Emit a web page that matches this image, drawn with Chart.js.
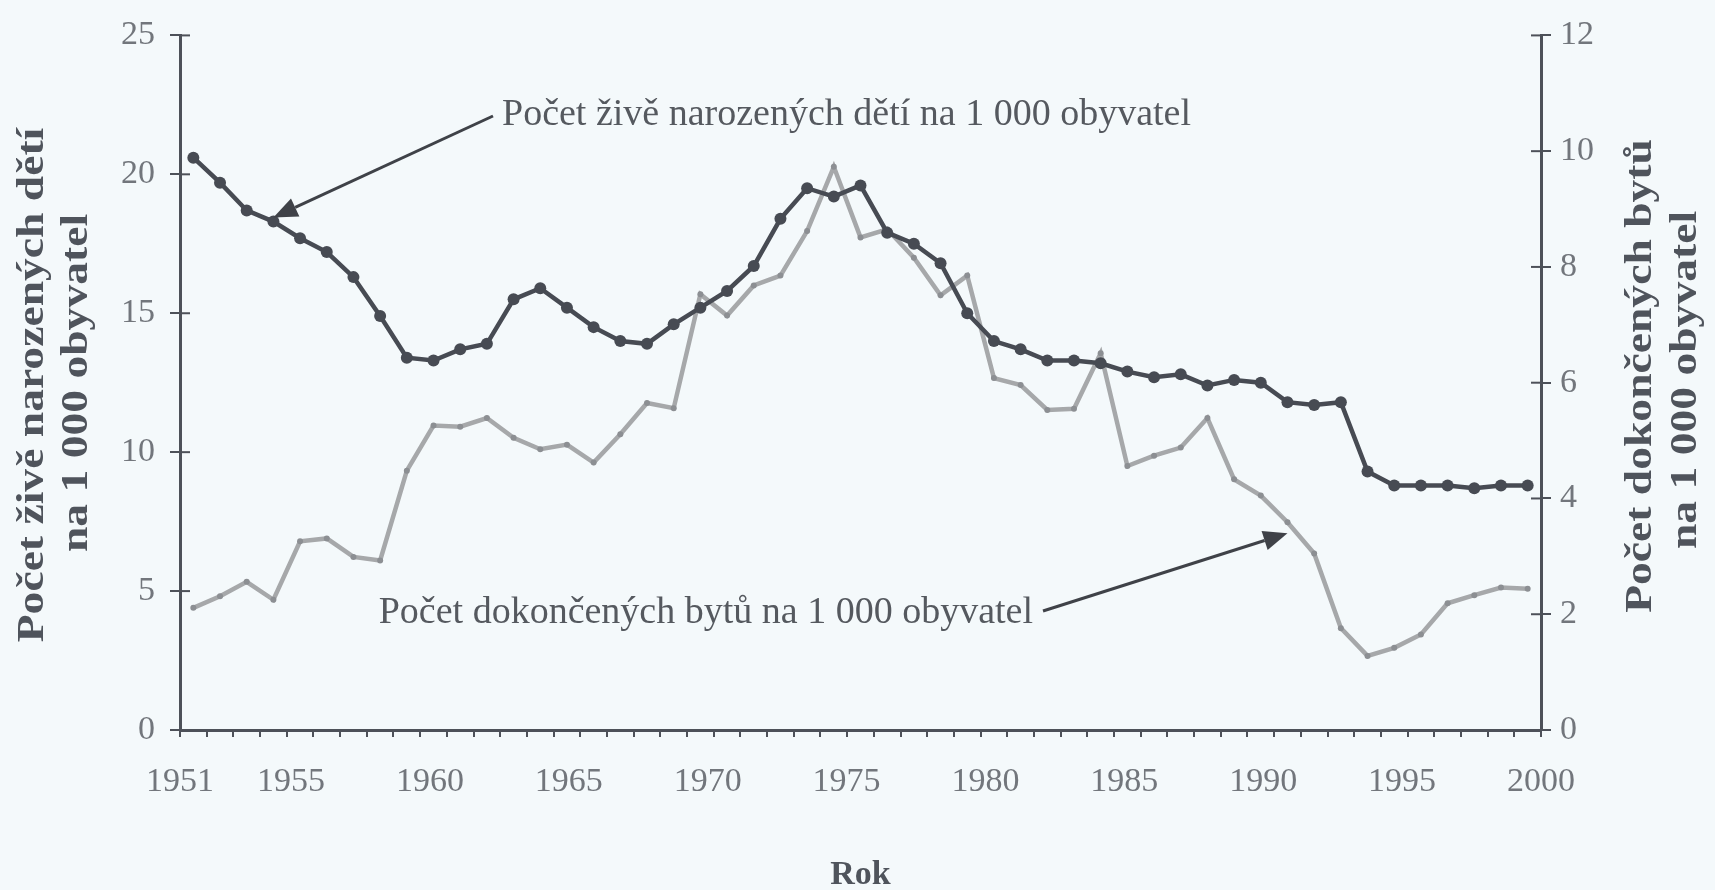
<!DOCTYPE html>
<html>
<head>
<meta charset="utf-8">
<title>Porodnost a bytová výstavba</title>
<script src="https://cdn.jsdelivr.net/npm/chart.js@4"></script>
<style>
  html, body { margin: 0; padding: 0; background: #f4f9fb; }
  #wrap { width: 1715px; height: 890px; }
</style>
</head>
<body>
<div id="wrap"><canvas id="myChart" width="1715" height="890"></canvas></div>
<script>
/* ======================================
        DATA
========================================*/
const years = [1950, 1951, 1952, 1953, 1954, 1955, 1956, 1957, 1958, 1959,
  1960, 1961, 1962, 1963, 1964, 1965, 1966, 1967, 1968, 1969,
  1970, 1971, 1972, 1973, 1974, 1975, 1976, 1977, 1978, 1979,
  1980, 1981, 1982, 1983, 1984, 1985, 1986, 1987, 1988, 1989,
  1990, 1991, 1992, 1993, 1994, 1995, 1996, 1997, 1998, 1999, 2000];

// live births per 1 000 inhabitants (left axis)
const births = [20.6, 19.7, 18.7, 18.3, 17.7, 17.2, 16.3, 14.9, 13.4, 13.3,
  13.7, 13.9, 15.5, 15.9, 15.2, 14.5, 14.0, 13.9, 14.6, 15.2,
  15.8, 16.7, 18.4, 19.5, 19.2, 19.6, 17.9, 17.5, 16.8, 15.0,
  14.0, 13.7, 13.3, 13.3, 13.2, 12.9, 12.7, 12.8, 12.4, 12.6,
  12.5, 11.8, 11.7, 11.8, 9.3, 8.8, 8.8, 8.8, 8.7, 8.8, 8.8];

// completed dwellings per 1 000 inhabitants (right axis)
const dwellings = [2.11, 2.31, 2.56, 2.25, 3.26, 3.31, 2.99, 2.93, 4.48, 5.26,
  5.24, 5.39, 5.05, 4.85, 4.93, 4.62, 5.11, 5.65, 5.56, 7.53,
  7.16, 7.68, 7.85, 8.62, 9.73, 8.51, 8.65, 8.16, 7.51, 7.85,
  6.08, 5.96, 5.53, 5.55, 6.51, 4.56, 4.74, 4.88, 5.39, 4.33,
  4.05, 3.59, 3.05, 1.76, 1.28, 1.42, 1.65, 2.19, 2.33, 2.46, 2.44];

const yearTicks = [1951, 1955, 1960, 1965, 1970, 1975, 1980, 1985, 1990, 1995, 2000];

const birthsLabel = 'Počet živě narozených dětí na 1 000 obyvatel';
const dwellLabel = 'Počet dokončených bytů na 1 000 obyvatel';
const leftTitle = ['Počet živě narozených dětí', 'na 1 000 obyvatel'];
const rightTitle = ['Počet dokončených bytů', 'na 1 000 obyvatel'];

/* ======================================
        STYLE
========================================*/
const serif = "'Liberation Serif', 'DejaVu Serif', serif";
const axisColor = '#4d5159';
const tickColor = '#72767c';
const titleColor = '#4f545c';
const darkLine = '#474b53';
const greyLine = '#a6a8aa';

/* ======================================
        EXTRA DRAWING (inner ticks, titles, arrows)
========================================*/
function arrow(ctx, x1, y1, x2, y2) {
  const ang = Math.atan2(y2 - y1, x2 - x1);
  const headLen = 24, headW = 10;
  const bx = x2 - headLen * Math.cos(ang), by = y2 - headLen * Math.sin(ang);
  ctx.beginPath();
  ctx.moveTo(x1, y1);
  ctx.lineTo(bx, by);
  ctx.stroke();
  ctx.beginPath();
  ctx.moveTo(x2, y2);
  ctx.lineTo(bx + headW * Math.sin(ang), by - headW * Math.cos(ang));
  ctx.lineTo(bx - headW * Math.sin(ang), by + headW * Math.cos(ang));
  ctx.closePath();
  ctx.fill();
}

function rotatedText(ctx, txt, cx, cy) {
  ctx.save();
  ctx.translate(cx, cy);
  ctx.rotate(-Math.PI / 2);
  ctx.scale(1.2, 1);
  ctx.fillText(txt, 0, 0);
  ctx.restore();
}

const extras = {
  id: 'extras',
  afterDraw(chart) {
    const ctx = chart.ctx;
    const area = chart.chartArea;
    const x = chart.scales.x, y = chart.scales.y, y2 = chart.scales.y2;
    ctx.save();

    // tick stubs pointing into the plot
    ctx.strokeStyle = axisColor;
    ctx.lineWidth = 2;
    y.ticks.forEach(t => {
      const py = y.getPixelForValue(t.value);
      ctx.beginPath(); ctx.moveTo(area.left, py); ctx.lineTo(area.left + 10, py); ctx.stroke();
    });
    y2.ticks.forEach(t => {
      const py = y2.getPixelForValue(t.value);
      ctx.beginPath(); ctx.moveTo(area.right - 10, py); ctx.lineTo(area.right, py); ctx.stroke();
    });

    // axis titles, both reading bottom to top
    ctx.fillStyle = titleColor;
    ctx.font = 'bold 38px ' + serif;
    ctx.textAlign = 'center';
    ctx.textBaseline = 'middle';
    rotatedText(ctx, leftTitle[0], 33, 385);
    rotatedText(ctx, leftTitle[1], 77, 383);
    rotatedText(ctx, rightTitle[0], 1641, 376);
    rotatedText(ctx, rightTitle[1], 1686, 380);

    // annotations
    ctx.fillStyle = '#55595f';
    ctx.font = '38px ' + serif;
    ctx.textAlign = 'left';
    ctx.fillText(birthsLabel, 502, 115);
    ctx.textAlign = 'right';
    ctx.fillText(dwellLabel, 1033, 613);

    ctx.strokeStyle = '#3f4248';
    ctx.fillStyle = '#3f4248';
    ctx.lineWidth = 3;
    arrow(ctx, 493, 116, x.getPixelForValue(3), y.getPixelForValue(births[3]) - 4);
    arrow(ctx, 1043, 611, x.getPixelForValue(41), y2.getPixelForValue(3.4));

    ctx.restore();
  }
};

/* ======================================
        CHART
========================================*/
const myChart = document.getElementById('myChart').getContext('2d');
Chart.defaults.font.family = serif;

let rateChart = new Chart(myChart, {
  type: 'line',
  data: {
    labels: years,
    datasets: [{
      label: birthsLabel,
      data: births,
      yAxisID: 'y',
      xAxisID: 'x',
      borderColor: darkLine,
      backgroundColor: darkLine,
      borderWidth: 4.5,
      pointRadius: 6,
      pointBackgroundColor: darkLine,
      pointBorderWidth: 0,
      tension: 0,
      order: 0
    }, {
      label: dwellLabel,
      data: dwellings,
      yAxisID: 'y2',
      xAxisID: 'x',
      borderColor: greyLine,
      backgroundColor: '#8c8f93',
      borderWidth: 4.5,
      pointRadius: 3,
      pointBackgroundColor: '#8c8f93',
      pointBorderWidth: 0,
      tension: 0,
      order: 1
    }]
  },
  options: {
    responsive: false,
    animation: false,
    layout: { padding: { top: 30, left: 0, right: 0, bottom: 0 } },
    plugins: {
      legend: { display: false },
      tooltip: { enabled: false }
    },
    scales: {
      x: {
        type: 'category',
        position: 'bottom',
        weight: 0,
        offset: true,
        grid: { display: true, drawOnChartArea: false, drawTicks: true, tickLength: 7, color: axisColor, lineWidth: 2, offset: true },
        border: { display: true, color: axisColor, width: 3 },
        ticks: { display: false },
        afterFit: scale => { scale.height = 8; }
      },
      xYear: {
        type: 'linear',
        position: 'bottom',
        weight: 1,
        min: 1951,
        max: 2000,
        grid: { display: false, drawTicks: false },
        border: { display: false },
        afterBuildTicks: scale => { scale.ticks = yearTicks.map(v => ({ value: v })); },
        ticks: {
          autoSkip: false, maxRotation: 0, padding: 24,
          color: tickColor, font: { size: 34, family: serif },
          callback: v => String(v)
        },
        title: {
          display: true, text: 'Rok', color: titleColor,
          font: { size: 34, weight: 'bold', family: serif },
          padding: { top: 0, bottom: -6 }
        },
        afterFit: scale => { scale.height = 152; }
      },
      y: {
        type: 'linear',
        position: 'left',
        min: 0,
        max: 25,
        grid: { drawOnChartArea: false, drawTicks: true, tickLength: 10, color: axisColor, lineWidth: 2 },
        border: { display: true, color: axisColor, width: 3 },
        ticks: { stepSize: 5, padding: 15, color: tickColor, font: { size: 34, family: serif } },
        afterFit: scale => { scale.width = 180; }
      },
      y2: {
        type: 'linear',
        position: 'right',
        min: 0,
        max: 12,
        grid: { drawOnChartArea: false, drawTicks: true, tickLength: 10, color: axisColor, lineWidth: 2 },
        border: { display: true, color: axisColor, width: 3 },
        ticks: { stepSize: 2, padding: 9, color: tickColor, font: { size: 34, family: serif } },
        afterFit: scale => { scale.width = 174; }
      }
    }
  },
  plugins: [extras]
});
</script>
</body>
</html>
